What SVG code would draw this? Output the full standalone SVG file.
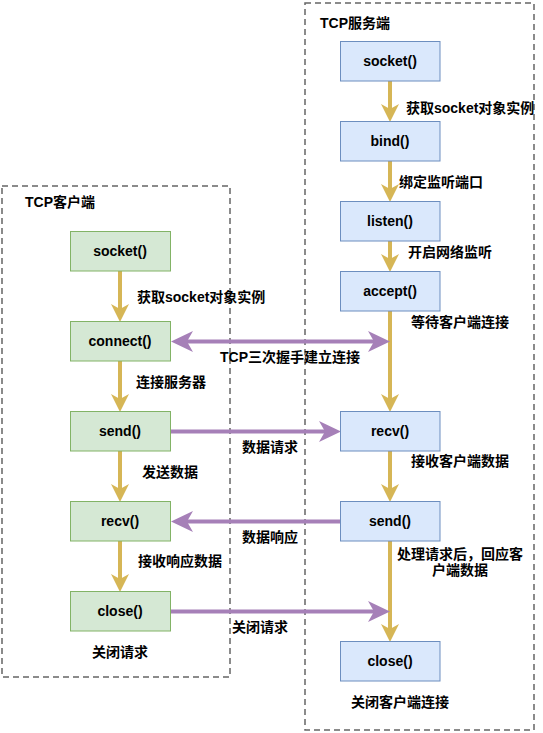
<svg xmlns="http://www.w3.org/2000/svg" width="543" height="733" viewBox="0 0 543 733">
<defs>
<style>
.t{font-family:"Liberation Sans","Noto Sans CJK SC",sans-serif;font-weight:bold;font-size:14px;fill:#000}
.c{text-anchor:middle}
.cont{fill:none;stroke:#666;stroke-width:1.5;stroke-dasharray:6 4}
.g rect{fill:#d5e8d4;stroke:#82b366;stroke-width:1}
.b rect{fill:#dae8fc;stroke:#6c8ebf;stroke-width:1}
.gold{fill:none;stroke:#d6b656;stroke-width:4}
.pur{fill:none;stroke:#a680b8;stroke-width:4}
</style>
<marker id="ag" markerUnits="userSpaceOnUse" markerWidth="18" markerHeight="18" viewBox="0 0 18 18" refX="5" refY="9" orient="auto-start-reverse">
<path d="M0,0 L18,9 L0,18 L5,9 Z" fill="#d6b656"/>
</marker>
<marker id="ap" markerUnits="userSpaceOnUse" markerWidth="22" markerHeight="21" viewBox="0 0 22 21" refX="6" refY="10.5" orient="auto-start-reverse">
<path d="M0,0 L22,10.5 L0,21 L6,10.5 Z" fill="#a680b8"/>
</marker>
</defs>
<g id="server-container">
<rect class="cont" x="305" y="3" width="229" height="727"/>
<text class="t" x="320" y="28">TCP服务端</text>
</g>
<g id="client-container">
<rect class="cont" x="2" y="186" width="228" height="491"/>
<text class="t" x="25" y="207">TCP客户端</text>
</g>
<g id="connectors">
<line class="gold" x1="390" y1="81" x2="390" y2="109" marker-end="url(#ag)"/>
<line class="gold" x1="390" y1="161" x2="390" y2="189" marker-end="url(#ag)"/>
<line class="gold" x1="390" y1="241" x2="390" y2="259" marker-end="url(#ag)"/>
<line class="gold" x1="390" y1="311" x2="390" y2="399" marker-end="url(#ag)"/>
<line class="gold" x1="390" y1="451" x2="390" y2="489" marker-end="url(#ag)"/>
<line class="gold" x1="390" y1="541" x2="390" y2="629" marker-end="url(#ag)"/>
<line class="gold" x1="120" y1="271" x2="120" y2="309" marker-end="url(#ag)"/>
<line class="gold" x1="120" y1="361" x2="120" y2="399" marker-end="url(#ag)"/>
<line class="gold" x1="120" y1="451" x2="120" y2="489" marker-end="url(#ag)"/>
<line class="gold" x1="120" y1="541" x2="120" y2="579" marker-end="url(#ag)"/>
<line class="pur" x1="187" y1="341.5" x2="374" y2="341.5" marker-start="url(#ap)" marker-end="url(#ap)"/>
<line class="pur" x1="171" y1="431.5" x2="325" y2="431.5" marker-end="url(#ap)"/>
<line class="pur" x1="341" y1="521.5" x2="187" y2="521.5" marker-end="url(#ap)"/>
<line class="pur" x1="171" y1="611.5" x2="374" y2="611.5" marker-end="url(#ap)"/>
<text class="t" x="406" y="113">获取socket对象实例</text>
<text class="t" x="399" y="187">绑定监听端口</text>
<text class="t" x="408" y="257">开启网络监听</text>
<text class="t" x="411" y="327">等待客户端连接</text>
<text class="t" x="411" y="466">接收客户端数据</text>
<text class="t" x="397" y="559">处理请求后，回应客</text>
<text class="t c" x="460" y="575">户端数据</text>
<text class="t" x="137" y="302">获取socket对象实例</text>
<text class="t" x="136" y="387">连接服务器</text>
<text class="t" x="142" y="477">发送数据</text>
<text class="t" x="138" y="566">接收响应数据</text>
<text class="t c" x="290" y="362">TCP三次握手建立连接</text>
<text class="t c" x="270" y="452">数据请求</text>
<text class="t c" x="270" y="542">数据响应</text>
<text class="t c" x="260" y="632">关闭请求</text>
</g>
<g id="s-socket" class="b"><rect x="340.5" y="41.5" width="99.5" height="39.5"/><text class="t c" x="390" y="66">socket()</text></g>
<g id="s-bind" class="b"><rect x="340.5" y="121.5" width="99.5" height="39.5"/><text class="t c" x="390" y="146">bind()</text></g>
<g id="s-listen" class="b"><rect x="340.5" y="201.5" width="99.5" height="39.5"/><text class="t c" x="390" y="226">listen()</text></g>
<g id="s-accept" class="b"><rect x="340.5" y="271.5" width="99.5" height="39.5"/><text class="t c" x="390" y="296">accept()</text></g>
<g id="s-recv" class="b"><rect x="340.5" y="411.5" width="99.5" height="39.5"/><text class="t c" x="390" y="436">recv()</text></g>
<g id="s-send" class="b"><rect x="340.5" y="501.5" width="99.5" height="39.5"/><text class="t c" x="390" y="526">send()</text></g>
<g id="s-close" class="b"><rect x="340.5" y="641.5" width="99.5" height="39.5"/><text class="t c" x="390" y="666">close()</text></g>
<text class="t c" x="400" y="707">关闭客户端连接</text>
<g id="c-socket" class="g"><rect x="70.5" y="231.5" width="100" height="39.5"/><text class="t c" x="120" y="256">socket()</text></g>
<g id="c-connect" class="g"><rect x="70.5" y="321.5" width="100" height="39.5"/><text class="t c" x="120" y="346">connect()</text></g>
<g id="c-send" class="g"><rect x="70.5" y="411.5" width="100" height="39.5"/><text class="t c" x="120" y="436">send()</text></g>
<g id="c-recv" class="g"><rect x="70.5" y="501.5" width="100" height="39.5"/><text class="t c" x="120" y="526">recv()</text></g>
<g id="c-close" class="g"><rect x="70.5" y="591.5" width="100" height="39.5"/><text class="t c" x="120" y="616">close()</text></g>
<text class="t c" x="120" y="657">关闭请求</text>
</svg>
